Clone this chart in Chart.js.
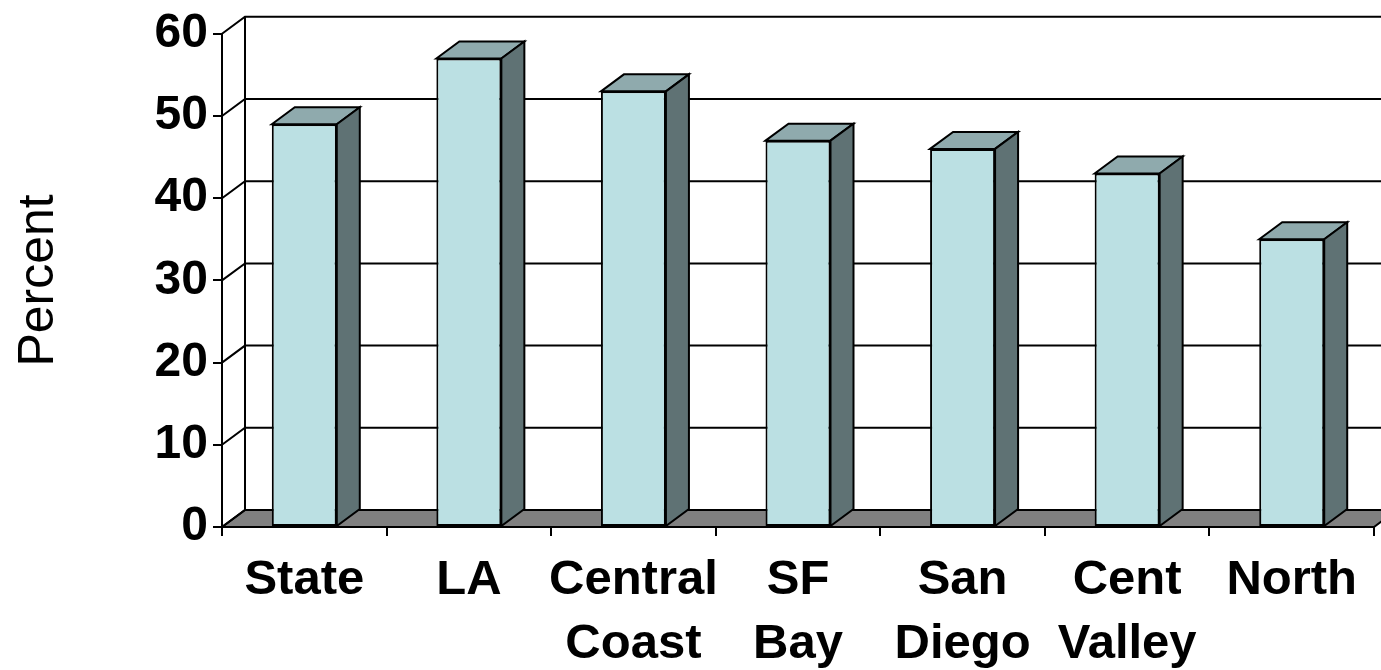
<!DOCTYPE html>
<html>
<head>
<meta charset="utf-8">
<script src="https://cdn.jsdelivr.net/npm/chart.js@4/dist/chart.umd.min.js"></script>
<style>
  html, body { margin: 0; padding: 0; background: #fff; }
  #wrap { width: 1381px; height: 670px; position: relative; }
</style>
</head>
<body>
<div id="wrap"><canvas id="regionChart"></canvas></div>
<script>
// chart data
const regions = ['State', 'LA', ['Central', 'Coast'], ['SF', 'Bay'], ['San', 'Diego'], ['Cent', 'Valley'], 'North'];
const percents = [49, 57, 53, 47, 46, 43, 35];
const yTicks = [0, 10, 20, 30, 40, 50, 60];

// depth of the fake 3D box
const DX = 23, DY = -17;

Chart.defaults.font.family = 'Arial, "Liberation Sans", sans-serif';
Chart.defaults.color = '#000';

// back wall, floor and gridlines, drawn behind the bars
const wallPlugin = {
    id: 'wall3d',
    beforeDatasetsDraw(chart) {
        const ctx = chart.ctx;
        const a = chart.chartArea;
        const y = chart.scales.y;
        const y0 = y.getPixelForValue(0);
        ctx.save();
        ctx.lineWidth = 2;
        ctx.strokeStyle = '#000';
        ctx.lineJoin = 'miter';

        // floor
        ctx.fillStyle = '#808080';
        ctx.beginPath();
        ctx.moveTo(a.left, y0);
        ctx.lineTo(a.right, y0);
        ctx.lineTo(a.right + DX, y0 + DY);
        ctx.lineTo(a.left + DX, y0 + DY);
        ctx.closePath();
        ctx.fill();
        ctx.stroke();

        // gridlines on the back wall
        yTicks.forEach(v => {
            const py = y.getPixelForValue(v);
            ctx.beginPath();
            ctx.moveTo(a.left, py);
            ctx.lineTo(a.left + DX, py + DY);
            ctx.lineTo(a.right + DX + 10, py + DY);
            ctx.stroke();
        });

        // left edge of the back wall
        ctx.beginPath();
        ctx.moveTo(a.left + DX, a.top + DY);
        ctx.lineTo(a.left + DX, y0 + DY);
        ctx.stroke();
        ctx.restore();
    }
};

// top and side faces of each column
const columnPlugin = {
    id: 'column3d',
    afterDatasetsDraw(chart) {
        const ctx = chart.ctx;
        const meta = chart.getDatasetMeta(0);
        ctx.save();
        ctx.lineWidth = 2;
        ctx.strokeStyle = '#000';
        ctx.lineJoin = 'miter';
        meta.data.forEach(bar => {
            const p = bar.getProps(['x', 'y', 'width', 'base'], true);
            const l = p.x - p.width / 2, r = p.x + p.width / 2;
            const top = p.y, base = p.base;

            ctx.fillStyle = '#8FAAAD';
            ctx.beginPath();
            ctx.moveTo(l, top);
            ctx.lineTo(l + DX, top + DY);
            ctx.lineTo(r + DX, top + DY);
            ctx.lineTo(r, top);
            ctx.closePath();
            ctx.fill();
            ctx.stroke();

            ctx.fillStyle = '#5F7274';
            ctx.beginPath();
            ctx.moveTo(r, top);
            ctx.lineTo(r + DX, top + DY);
            ctx.lineTo(r + DX, base + DY);
            ctx.lineTo(r, base);
            ctx.closePath();
            ctx.fill();
            ctx.stroke();
        });
        ctx.restore();
    }
};

const ctx = document.getElementById('regionChart').getContext('2d');
new Chart(ctx, {
    type: 'bar',
    data: {
        labels: regions,
        datasets: [{
            label: 'Percent',
            data: percents,
            backgroundColor: '#BBE0E3',
            borderColor: '#000',
            borderWidth: 2,
            borderSkipped: false,
            barPercentage: 0.395,
            categoryPercentage: 1
        }]
    },
    options: {
        responsive: true,
        maintainAspectRatio: false,
        animation: false,
        layout: { padding: { top: 32, right: 7, left: 0, bottom: 0 } },
        plugins: {
            legend: { display: false },
            tooltip: { enabled: false }
        },
        scales: {
            y: {
                min: 0,
                max: 60,
                ticks: { stepSize: 10, padding: 5, font: { size: 48, weight: 'bold' } },
                grid: { drawOnChartArea: false, tickLength: 9, color: '#000', lineWidth: 2 },
                border: { color: '#000', width: 2 },
                title: { display: true, text: 'Percent', font: { size: 50 }, padding: { top: 9, bottom: 4 } },
                afterFit(scale) { scale.width = 222; }
            },
            x: {
                ticks: { maxRotation: 0, autoSkip: false, padding: 13, font: { size: 49, weight: 'bold', lineHeight: 1.3 } },
                grid: { drawOnChartArea: false, tickLength: 9, color: '#000', lineWidth: 2, offset: true },
                border: { color: '#000', width: 2 },
                afterFit(scale) { scale.height = 143; }
            }
        }
    },
    plugins: [wallPlugin, columnPlugin]
});
</script>
</body>
</html>
